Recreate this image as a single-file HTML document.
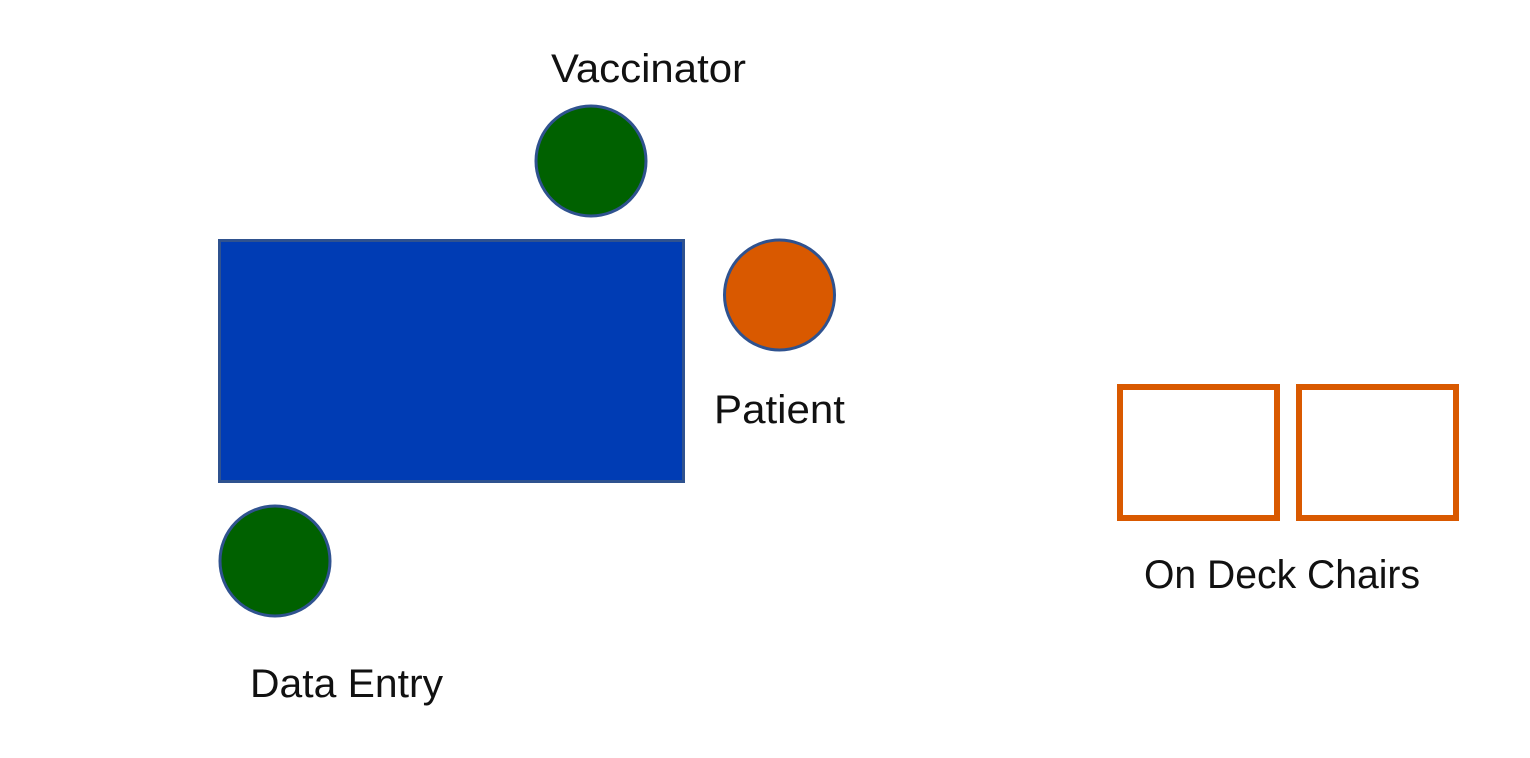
<!DOCTYPE html>
<html><head><meta charset="utf-8"><style>html,body{margin:0;padding:0;background:#fff;}svg{display:block}</style></head>
<body>
<svg width="1530" height="758" viewBox="0 0 1530 758" xmlns="http://www.w3.org/2000/svg">
<rect x="219.5" y="240.5" width="464" height="241" fill="#003cb4" stroke="#2f528f" stroke-width="3"/>
<circle cx="591" cy="161" r="55" fill="#006100" stroke="#2f528f" stroke-width="3"/>
<circle cx="779.5" cy="295" r="55" fill="#d95900" stroke="#2f528f" stroke-width="3"/>
<circle cx="275" cy="561" r="55" fill="#006100" stroke="#2f528f" stroke-width="3"/>
<rect x="1120" y="387" width="157" height="131" fill="none" stroke="#d95900" stroke-width="6"/>
<rect x="1299" y="387" width="157" height="131" fill="none" stroke="#d95900" stroke-width="6"/>
<g font-family="Liberation Sans, sans-serif" font-size="40" fill="#111">
<text x="551" y="82" textLength="195" lengthAdjust="spacingAndGlyphs">Vaccinator</text>
<text x="714" y="423" textLength="131" lengthAdjust="spacingAndGlyphs">Patient</text>
<text x="250" y="697" textLength="193" lengthAdjust="spacingAndGlyphs">Data Entry</text>
<text x="1144" y="588" textLength="276" lengthAdjust="spacingAndGlyphs">On Deck Chairs</text>
</g>
</svg>
</body></html>
